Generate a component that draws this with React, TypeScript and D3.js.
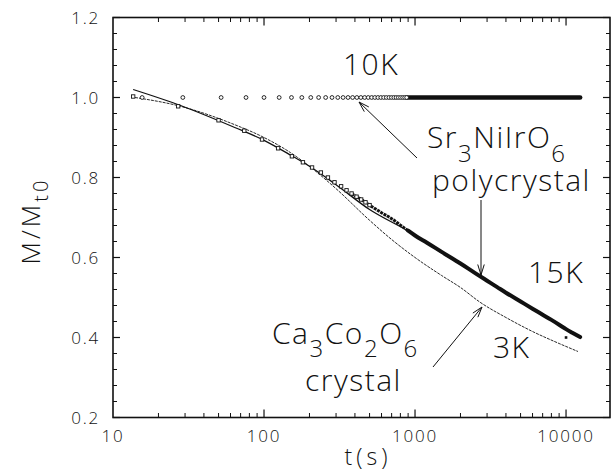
import React from "react";
import * as d3 from "d3";

// ---- data ----
// 10 K Sr3NiIrO6 (open circles), sampled ~every 26 s
const t10K = [15.6, 29, 52, 76, 100, 126, 152, 178, 204, 230, 256, 282, 308, 334, 360, 386, 412, 438, 464, 490, 516, 542, 568, 594, 620, 646, 672, 698, 724, 750, 776, 802, 828, 854, 880];
const m10K = [1.0, 1.0, 1.0, 1.0, 1.0, 1.0, 1.0, 1.0, 1.0, 1.0, 1.0, 1.0, 1.0, 1.0, 1.0, 1.0, 1.0, 1.0, 1.0, 1.0, 1.0, 1.0, 1.0, 1.0, 1.0, 1.0, 1.0, 1.0, 1.0, 1.0, 1.0, 1.0, 1.0, 1.0, 1.0];
// dense part of 10 K data (markers merge into a band)
const t10Kdense = [880, 2000, 5000, 12400];
const m10Kdense = [1.0, 1.0, 1.0, 1.0];

// 15 K Sr3NiIrO6 (open squares)
const t15K = [13.6, 27, 50, 74, 97, 124, 153, 181, 208, 238, 265, 293, 324, 352, 380, 410, 440, 470, 500];
const m15K = [1.0025, 0.978, 0.943, 0.917, 0.895, 0.873, 0.853, 0.838, 0.825, 0.8125, 0.8, 0.788, 0.778, 0.768, 0.76, 0.752, 0.745, 0.738, 0.731];
// dense part of 15 K data: markers touching (chain) then fully merged
const t15Kchain = [380, 410, 440, 470, 500, 600, 700, 800, 900];
const m15Kchain = [0.76, 0.752, 0.745, 0.738, 0.731, 0.712, 0.697, 0.681, 0.667];
const t15Kdense = [900, 1000, 1200, 1500, 2000, 2500, 3000, 3500, 4000, 5000, 6000, 7000, 8000, 9000, 10000, 11000, 12400];
const m15Kdense = [0.667, 0.655, 0.637, 0.614, 0.585, 0.561, 0.542, 0.526, 0.512, 0.49, 0.472, 0.457, 0.444, 0.432, 0.421, 0.412, 0.401];
const tStray = [10000];
const mStray = [0.4];

// fit curve (solid line)
const tFit = [13.6, 28, 64, 100, 150, 200, 300, 500, 885, 1500, 2700, 5000, 8000, 12400];
const mFit = [1.02, 0.98, 0.925, 0.893, 0.856, 0.828, 0.782, 0.72, 0.6675, 0.612, 0.552, 0.49, 0.444, 0.401];

// Ca3Co2O6 crystal at 3 K (thin line)
const tCa = [14, 28, 64, 100, 150, 200, 300, 500, 700, 1000, 1500, 2000, 2700, 4000, 6000, 9000, 12000];
const mCa = [1.0, 0.978, 0.932, 0.9, 0.862, 0.828, 0.772, 0.693, 0.645, 0.6, 0.555, 0.525, 0.488, 0.45, 0.415, 0.385, 0.365];

const xTickValues = [10, 100, 1000, 10000];
const xTickLabels = ["10", "100", "1000", "10000"];
const yTickValues = [0.2, 0.4, 0.6, 0.8, 1.0, 1.2];
const yTickLabels = ["0.2", "0.4", "0.6", "0.8", "1.0", "1.2"];

const W = 615;
const H = 473;
const FONT = "'Open Sans', 'Liberation Sans', sans-serif";
const INK = "#111";

export default function App() {
  const x = d3.scaleLog().domain([10, 19550]).range([113, 610]);
  const y = d3.scaleLinear().domain([0.2, 1.2]).range([417.5, 17.5]);
  const [x0, x1] = x.range();
  const [y0, y1] = y.range();

  const pts = (ts: number[], ms: number[]) => ts.map((t, i) => [x(t), y(ms[i])] as [number, number]);
  const smooth = d3.line().curve(d3.curveMonotoneX);
  const straight = d3.line();

  // minor ticks
  const xMinor: number[] = [];
  [10, 100, 1000, 10000].forEach((d) => {
    for (let k = 2; k <= 9; k++) if (d * k <= 19550) xMinor.push(d * k);
  });
  const yMinor: number[] = [];
  for (let i = 0; i <= 25; i++) {
    const v = 0.2 + i * 0.04;
    if (!yTickValues.some((t) => Math.abs(t - v) < 1e-6)) yMinor.push(v);
  }

  const arrow = (xa: number, ya: number, xb: number, yb: number, key: string) => {
    const ang = Math.atan2(yb - ya, xb - xa);
    const L = 11;
    const sp = 0.3;
    const p1 = [xb - L * Math.cos(ang - sp), yb - L * Math.sin(ang - sp)];
    const p2 = [xb - L * Math.cos(ang + sp), yb - L * Math.sin(ang + sp)];
    return (
      <g key={key} stroke={INK} strokeWidth={1} fill="none">
        <line x1={xa} y1={ya} x2={xb} y2={yb} />
        <polyline points={`${p1[0]},${p1[1]} ${xb},${yb} ${p2[0]},${p2[1]}`} />
      </g>
    );
  };

  const ann = { fontFamily: FONT, fontWeight: 300, fill: INK, fontSize: 30, letterSpacing: 1.5 } as const;

  return (
    <svg width={W} height={H} style={{ position: "absolute", left: 0, top: 0, background: "#fff" }}>
      <rect x={0} y={0} width={W} height={H} fill="#fff" />
      {/* curves */}
      <path d={smooth(pts(tCa, mCa)) || ""} fill="none" stroke={INK} strokeWidth={0.9} strokeDasharray="3,1" />
      <path d={smooth(pts(tFit, mFit)) || ""} fill="none" stroke={INK} strokeWidth={1.3} />
      {/* 15 K dense data */}
      <path d={smooth(pts(t15Kchain, m15Kchain)) || ""} fill="none" stroke={INK} strokeWidth={3} strokeDasharray="3,0.8" />
      <path d={smooth(pts(t15Kdense, m15Kdense)) || ""} fill="none" stroke={INK} strokeWidth={4} strokeLinecap="round" />
      {/* 10 K dense band */}
      <path d={straight(pts(t10Kdense, m10Kdense)) || ""} fill="none" stroke={INK} strokeWidth={4.5} strokeLinecap="round" />
      {/* markers */}
      {pts(t15K, m15K).map(([px, py], i) => (
        <rect key={"s" + i} x={px - 1.7} y={py - 1.7} width={3.4} height={3.4} fill="#fff" stroke={INK} strokeWidth={0.9} />
      ))}
      {pts(t10K, m10K).map(([px, py], i) => (
        <circle key={"c" + i} cx={px} cy={py} r={1.9} fill="#fff" stroke={INK} strokeWidth={0.9} />
      ))}
      {pts(tStray, mStray).map(([px, py], i) => (
        <rect key={"st" + i} x={px - 1.3} y={py - 1.3} width={2.6} height={2.6} fill={INK} />
      ))}

      {/* frame */}
      <rect x={x0} y={y1} width={x1 - x0} height={y0 - y1} fill="none" stroke={INK} strokeWidth={1.6} />
      {/* x ticks */}
      {xTickValues.slice(1).map((v) => (
        <g key={"xt" + v} stroke={INK} strokeWidth={1.2}>
          <line x1={x(v)} x2={x(v)} y1={y0} y2={y0 - 8} />
          <line x1={x(v)} x2={x(v)} y1={y1} y2={y1 + 8} />
        </g>
      ))}
      {xMinor.map((v) => (
        <g key={"xm" + v} stroke={INK} strokeWidth={1}>
          <line x1={x(v)} x2={x(v)} y1={y0} y2={y0 - 4.5} />
          <line x1={x(v)} x2={x(v)} y1={y1} y2={y1 + 4.5} />
        </g>
      ))}
      {/* y ticks */}
      {yTickValues.map((v) => (
        <g key={"yt" + v} stroke={INK} strokeWidth={1.2}>
          <line x1={x0} x2={x0 + 7} y1={y(v)} y2={y(v)} />
          <line x1={x1} x2={x1 - 7} y1={y(v)} y2={y(v)} />
        </g>
      ))}
      {yMinor.map((v) => (
        <g key={"ym" + v} stroke={INK} strokeWidth={1}>
          <line x1={x0} x2={x0 + 4} y1={y(v)} y2={y(v)} />
          <line x1={x1} x2={x1 - 4} y1={y(v)} y2={y(v)} />
        </g>
      ))}
      {/* tick labels */}
      {xTickValues.map((v, i) => (
        <text key={"xl" + v} x={x(v)} y={442} textAnchor="middle" fontFamily={FONT} fontWeight={300} fontSize={17} letterSpacing={1.8} fill={INK}>
          {xTickLabels[i]}
        </text>
      ))}
      {yTickValues.map((v, i) => (
        <text key={"yl" + v} x={100} y={y(v) + 6} textAnchor="end" fontFamily={FONT} fontWeight={300} fontSize={17} letterSpacing={1.8} fill={INK}>
          {yTickLabels[i]}
        </text>
      ))}
      {/* axis titles */}
      <text x={368} y={465} textAnchor="middle" fontFamily={FONT} fontWeight={300} fontSize={23} letterSpacing={4} fill={INK}>
        t(s)
      </text>
      <text transform="translate(40,221) rotate(-90)" textAnchor="middle" fontFamily={FONT} fontWeight={300} fontSize={26} letterSpacing={3} fill={INK}>
        M/M<tspan fontSize={20} dy={8}>t0</tspan>
      </text>

      {/* annotations */}
      <text x={343} y={75} {...ann}>10K</text>
      <text x={528} y={283} {...ann}>15K</text>
      <text x={493} y={358} {...ann}>3K</text>
      <text x={427} y={148} {...ann}>
        Sr<tspan fontSize={24} dy={14}>3</tspan><tspan dy={-14}>NiIrO</tspan><tspan fontSize={24} dy={14}>6</tspan>
      </text>
      <text x={432} y={191} {...ann}>polycrystal</text>
      <text x={272} y={344} {...ann}>
        Ca<tspan fontSize={24} dy={13}>3</tspan><tspan dy={-13}>Co</tspan><tspan fontSize={24} dy={13}>2</tspan><tspan dy={-13}>O</tspan><tspan fontSize={24} dy={13}>6</tspan>
      </text>
      <text x={305} y={391} {...ann}>crystal</text>

      {arrow(417, 158, 359, 102, "a1")}
      {arrow(481, 200, 481, 275, "a2")}
      {arrow(433, 367, 482, 307, "a3")}
    </svg>
  );
}
